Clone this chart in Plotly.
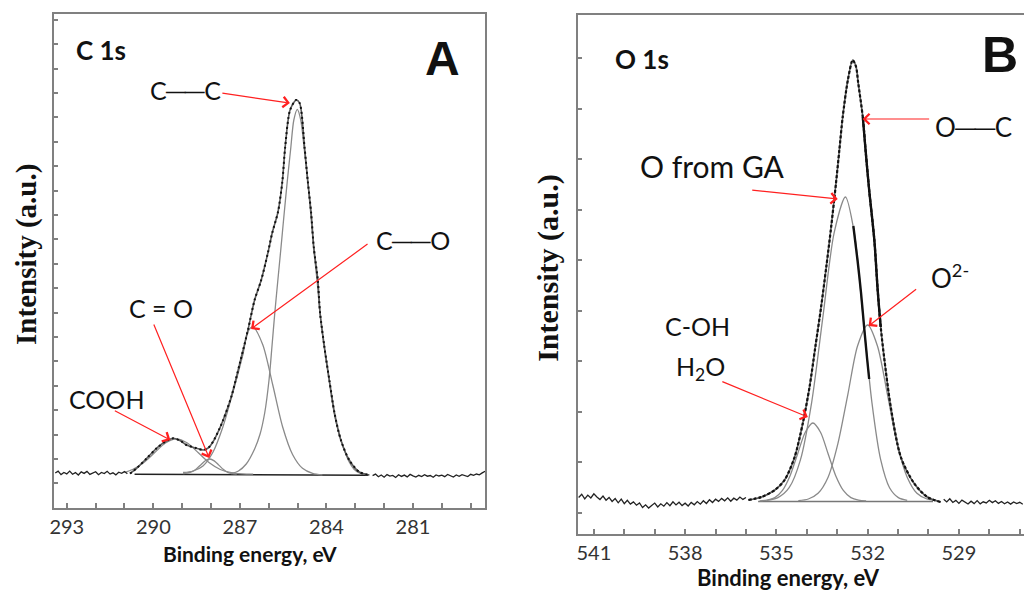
import plotly.graph_objects as go

# ================= Panel A : C 1s =================
# measured data: baseline noise (left / right of the peaks)
a_left_E = [293.4, 293.3, 293.2, 293.1, 293.0, 292.9, 292.8, 292.7, 292.6, 292.5, 292.4, 292.3, 292.2,
            292.1, 292.0, 291.9, 291.8, 291.7, 291.6, 291.5, 291.4, 291.3, 291.2, 291.1, 291.0, 290.9]
a_left_I = [-1.0, 0.8, -2.6, -0.4, -1.9, 0.9, -2.2, -0.6, -3.0, 0.1, -1.4, 0.6, -2.4,
            -1.1, 0.3, -2.7, -0.5, -1.6, 0.7, -2.1, -0.8, -2.9, -0.2, -1.3, 0.4, -1.8]
a_right_E = [282.4, 282.3, 282.2, 282.1, 282.0, 281.9, 281.8, 281.7, 281.6, 281.5, 281.4, 281.3, 281.2,
             281.1, 281.0, 280.9, 280.8, 280.7, 280.6, 280.5, 280.4, 280.3, 280.2, 280.1, 280.0, 279.9,
             279.8, 279.7, 279.6, 279.5, 279.4, 279.3, 279.2, 279.1, 279.0, 278.9, 278.8, 278.7, 278.6, 278.5]
a_right_I = [-3.6, -2.1, -4.8, -3.0, -5.2, -2.6, -4.1, -3.4, -5.5, -2.8, -4.4, -3.1, -4.9,
             -2.4, -3.9, -5.1, -3.3, -4.6, -2.7, -4.2, -3.5, -5.3, -2.9, -4.0, -3.2, -4.7,
             -2.5, -3.8, -5.0, -3.0, -4.3, -2.6, -3.7, -4.5, -2.3, -3.4, -2.0, -2.8, -0.9, 0.8]

# fitted envelope (data points follow it)
a_env_E = [290.81, 290.58, 290.23, 289.89, 289.55, 289.31, 289.05, 288.85, 288.50, 288.27, 288.10, 287.93,
           287.70, 287.58, 287.30, 287.00, 286.72, 286.49, 286.26, 286.03, 285.88, 285.68, 285.53, 285.43,
           285.26, 285.05, 284.93, 284.76, 284.65, 284.53, 284.44, 284.30, 284.22, 284.07, 283.90, 283.72,
           283.50, 283.21, 282.86, 282.51]
a_env_I = [-1.5, 3.7, 13.7, 23.7, 31, 33.7, 31, 27, 23.7, 22, 24, 30.3,
           43.7, 52, 75, 109, 142, 172, 192, 219, 239, 260, 290, 325,
           362, 372, 369, 325, 292, 259, 225, 192, 159, 125, 92, 59,
           32, 12, 0, -3]

# fitted components
a_cc_E = [282.60, 282.86, 283.05, 283.21, 283.42, 283.58, 283.72, 283.90, 284.07, 284.22, 284.32, 284.44,
          284.54, 284.65, 284.77, 284.89, 285.01, 285.13, 285.24, 285.36, 285.47, 285.58, 285.69, 285.79,
          285.89, 285.99, 286.14, 286.30, 286.49, 286.78, 287.05, 287.30]
a_cc_I = [-2.8, -1.0, 3, 10, 25, 40, 57, 90, 123, 157, 190, 223,
          257, 290, 323, 352, 362.7, 352, 323, 290, 257, 223, 190, 159,
          125, 92, 59, 38, 23, 8, 1, -1.5]
a_co_E = [284.14, 284.48, 284.83, 285.17, 285.52, 285.86, 286.21, 286.55, 286.72, 286.90, 287.24, 287.59,
          287.93, 288.28, 288.62, 288.97]
a_co_I = [-2.9, -1.4, 3.7, 17.3, 45.3, 87.0, 127.6, 145.1, 140.5, 117, 80, 45,
          20, 6, 1, -0.5]
a_cdo_E = [287.11, 287.27, 287.42, 287.58, 287.73, 287.89, 288.04, 288.20, 288.35, 288.51, 288.66, 288.82, 288.97]
a_cdo_I = [-2.2, -1.7, -0.3, 2.7, 6.9, 11.1, 13.0, 11.3, 7.3, 3.1, 0.3, -1.0, -1.6]
a_cooh_E = [286.54, 286.92, 287.30, 287.68, 288.06, 288.44, 288.82, 289.20, 289.58, 289.96, 290.34, 290.72, 291.00]
a_cooh_I = [-2.2, -1.9, -0.7, 2.5, 9.2, 19.2, 29.0, 33.2, 29.0, 19.2, 9.2, 2.5, -0.5]
a_bg_E = [290.65, 282.55]
a_bg_I = [-2.3, -3.3]

# ================= Panel B : O 1s =================
b_left_E = [541.5, 541.4, 541.3, 541.2, 541.1, 541.0, 540.9, 540.8, 540.7, 540.6, 540.5, 540.4, 540.3, 540.2,
            540.1, 540.0, 539.9, 539.8, 539.7, 539.6, 539.5, 539.4, 539.3, 539.2, 539.1, 539.0, 538.9, 538.8,
            538.7, 538.6, 538.5, 538.4, 538.3, 538.2, 538.1, 538.0, 537.9, 537.8, 537.7, 537.6, 537.5, 537.4,
            537.3, 537.2, 537.1, 537.0, 536.9, 536.8, 536.7, 536.6, 536.5, 536.4, 536.3, 536.2, 536.1, 536.0]
b_left_I = [3.5, 6.8, 2.1, 5.9, 3.0, 7.2, 4.1, 1.5, 5.0, 0.8, 3.6, -0.5, 2.4, -1.8,
            1.9, -2.6, 0.7, -3.1, -0.9, -4.2, -2.0, -6.5, -3.8, -7.0, -4.4, -2.1, -5.9, -2.8,
            -5.2, -1.6, -4.7, -0.8, -3.9, -1.2, -4.6, -2.2, -5.0, -1.4, -3.8, -0.6, -3.2, 0.3,
            -2.5, 1.2, -1.5, 1.8, -0.4, 2.6, 0.2, 3.1, -0.3, 2.8, 0.9, 4.0, 1.6, 3.5]
b_right_E = [529.5, 529.4, 529.3, 529.2, 529.1, 529.0, 528.9, 528.8, 528.7, 528.6, 528.5, 528.4, 528.3, 528.2,
             528.1, 528.0, 527.9, 527.8, 527.7, 527.6, 527.5, 527.4, 527.3, 527.2, 527.1, 527.0, 526.9]
b_right_I = [1.8, -0.9, 2.2, -1.5, 0.6, -2.4, 0.9, -1.1, -3.0, -0.2, -2.6, 0.4, -2.9, -0.8,
             -1.9, 0.7, -1.6, 0.3, -2.4, -0.5, -2.8, -1.0, -3.1, -0.9, -2.5, -1.3, -3.2]

b_env_E = [535.92, 535.49, 535.05, 534.73, 534.40, 534.13, 533.91, 533.72, 533.53, 533.36,
           533.20, 533.04, 532.93, 532.82, 532.65, 532.49, 532.38, 532.31, 532.16, 532.06,
           531.95, 531.78, 531.67, 531.57, 531.46, 531.24, 530.91, 530.48, 530.04, 529.60]
b_env_I = [1, 4, 11, 21, 44, 78, 114, 154, 194, 234,
           274, 318, 351, 384, 421, 441, 434, 418, 384, 348,
           311, 261, 211, 174, 144, 94, 44, 18, 4, -1]

b_ga_E = [530.70, 530.99, 531.28, 531.57, 531.86, 532.15, 532.44, 532.73, 533.10, 533.47, 533.84, 534.21,
          534.58, 534.95, 535.32]
b_ga_I = [0.7, 3.4, 13.3, 41.1, 98.7, 184.4, 268.3, 304, 268.3, 184.4, 98.7, 41.1, 13.3, 3.4, 0.7]
b_ga_bold_E = [532.47, 532.33, 532.22, 532.11, 532.02, 531.95]
b_ga_bold_I = [275, 240, 209, 172, 143, 122]
b_o2_E = [529.73, 530.05, 530.38, 530.70, 531.03, 531.35, 531.68, 532.00, 532.33, 532.65, 532.98, 533.30,
          533.63, 533.95, 534.28]
b_o2_I = [0.4, 2.0, 7.7, 23.8, 57.1, 106.7, 155.3, 176, 155.3, 106.7, 57.1, 23.8, 7.7, 2.0, 0.4]
b_h2o_E = [532.05, 532.30, 532.55, 532.80, 533.05, 533.30, 533.55, 533.80, 534.05, 534.30, 534.55, 534.80,
           535.05, 535.30, 535.55]
b_h2o_I = [0.2, 0.9, 3.4, 10.6, 25.3, 47.3, 68.8, 78, 68.8, 47.3, 25.3, 10.6, 3.4, 0.9, 0.2]
b_bg_E = [535.6, 529.85]
b_bg_I = [-0.5, -0.5]

# tick values
a_ticks = [293, 290, 287, 284, 281]
b_ticks = [541, 538, 535, 532, 529]

# ---------------------------------------------------------------
COMP = dict(color="#8a8a8a", width=1.3)
ENV = dict(color="#5a5a5a", width=1.6)
fig = go.Figure()


def add(xs, ys, line, xa="x", ya="y", shape="spline"):
    fig.add_trace(go.Scatter(x=xs, y=ys, mode="lines", line=dict(shape=shape, smoothing=0.8, **line),
                             xaxis=xa, yaxis=ya, hoverinfo="skip", showlegend=False))


# panel A
add(a_bg_E, a_bg_I, dict(color="#222222", width=1.6), shape="linear")
add(a_cooh_E, a_cooh_I, COMP)
add(a_cdo_E, a_cdo_I, COMP)
add(a_co_E, a_co_I, COMP)
add(a_cc_E, a_cc_I, COMP)
add(a_env_E, a_env_I, ENV)
add(a_env_E, a_env_I, dict(color="#111111", width=2, dash="2px,3px"))
add(a_left_E + [None] + a_right_E, a_left_I + [None] + a_right_I, dict(color="#222222", width=1.3),
    shape="linear")

# panel B
add(b_bg_E, b_bg_I, dict(color="#777777", width=1.4), "x2", "y2", shape="linear")
add(b_h2o_E, b_h2o_I, COMP, "x2", "y2")
add(b_o2_E, b_o2_I, COMP, "x2", "y2")
add(b_ga_E, b_ga_I, COMP, "x2", "y2")
add(b_ga_bold_E, b_ga_bold_I, dict(color="#111111", width=2.4), "x2", "y2")
add(b_env_E, b_env_I, ENV, "x2", "y2")
add(b_env_E, b_env_I, dict(color="#111111", width=2.2, dash="3px,2px"), "x2", "y2")
add(b_env_E[18:24], b_env_I[18:24], dict(color="#111111", width=2.4), "x2", "y2")
add(b_left_E + [None] + b_right_E, b_left_I + [None] + b_right_I, dict(color="#222222", width=1.3),
    "x2", "y2", shape="linear")

W, H = 1024, 590


def px(x):
    return x / W


def py(y):
    return 1 - y / H


AX = dict(showgrid=False, zeroline=False, showline=True, linecolor="#808080", linewidth=2,
          ticks="inside", tickcolor="#808080", tickwidth=1.5, ticklen=5)
TF = dict(family="Lato, Carlito, sans-serif", size=20, color="#333333")

fig.update_layout(
    width=W, height=H, margin=dict(l=0, r=0, t=0, b=0),
    paper_bgcolor="white", plot_bgcolor="white", showlegend=False,
    xaxis=dict(domain=[px(50), px(483)], range=[293.45, 278.5], anchor="y", mirror=True,
               tickmode="array", tickvals=a_ticks, ticktext=[str(t) for t in a_ticks], tickfont=TF,
               minor=dict(dtick=1, tick0=281, ticks="inside", ticklen=5, tickcolor="#808080", showgrid=False),
               **AX),
    yaxis=dict(domain=[1 - 508 / H, 1 - 14 / H], range=[-36, 458], anchor="x", mirror=True,
               showticklabels=False, tickmode="linear", tick0=13, dtick=24.4, **{**AX, "ticklen": 4}),
    xaxis2=dict(domain=[px(576), 1.0], range=[541.53, 526.86], anchor="y2", mirror=True,
                tickmode="array", tickvals=b_ticks, ticktext=[str(t) for t in b_ticks], tickfont=TF,
                minor=dict(dtick=1, tick0=529, ticks="inside", ticklen=5, tickcolor="#808080", showgrid=False),
                **AX),
    yaxis2=dict(domain=[1 - 534 / H, 1 - 15 / H], range=[-33, 486], anchor="x2", mirror=False,
                showticklabels=False, tickmode="linear", tick0=39, dtick=50.5, **{**AX, "ticklen": 4}),
)

LBL = "Lato, Carlito, sans-serif"
ann = []


def text(t, x, y, size, family=LBL, bold=False, angle=0, xanchor="center"):
    s = f"<b>{t}</b>" if bold else t
    ann.append(dict(text=s, x=px(x), y=py(y), xref="paper", yref="paper", showarrow=False,
                    xanchor=xanchor, yanchor="middle", textangle=angle,
                    font=dict(family=family, size=size, color="#111111")))


def arrow(x0, y0, x1, y1):
    ann.append(dict(text="", x=px(x1), y=py(y1), xref="paper", yref="paper", showarrow=True,
                    ax=x0 - x1, ay=y0 - y1, axref="pixel", ayref="pixel",
                    arrowhead=4, arrowsize=1.7, arrowwidth=1.2, arrowcolor="#ff2020",
                    standoff=0, startstandoff=0))


BAR = "\u2500\u2500"  # long single-bond line

# panel A texts
text("C 1s", 97, 50, 26, bold=True)
text("A", 440, 58, 48, family="Liberation Sans, Arial, sans-serif", bold=True)
text("C" + BAR + "C", 182, 90, 25)
text("C" + BAR + "O", 411, 240, 25)
text("C = O", 158, 308, 25)
text("COOH", 103, 399, 25)
text("Intensity (a.u.)", 22, 254, 29, family="Liberation Serif, Times New Roman, serif", bold=True, angle=-90)
text("Binding energy, eV", 247, 553, 21, bold=True)
arrow(218, 93, 287, 103)
arrow(366, 243, 248, 329)
arrow(150, 323, 206, 458)
arrow(110, 410, 167, 440)

# panel B texts
text("O 1s", 641, 59, 26, bold=True)
text("B", 1000, 55, 50, family="Liberation Sans, Arial, sans-serif", bold=True)
text("O" + BAR + "C", 933, 127, 26, xanchor="left")
text("O from GA", 711, 166, 30)
text("O<sup>2-</sup>", 950, 276, 26)
text("C-OH", 696, 326, 25)
text("H<sub>2</sub>O", 699, 368, 25)
text("Intensity (a.u.)", 546, 268, 30, family="Liberation Serif, Times New Roman, serif", bold=True, angle=-90)
text("Binding energy, eV", 788, 577, 22, bold=True)
arrow(930, 119, 862, 119)
arrow(750, 190, 837, 199)
arrow(917, 288, 868, 326)
arrow(720, 381, 807, 417)

fig.update_layout(annotations=ann)
fig.write_html("out.html", config={"displayModeBar": False},
               post_script="document.body.style.margin='0px';document.body.style.overflow='hidden';")
